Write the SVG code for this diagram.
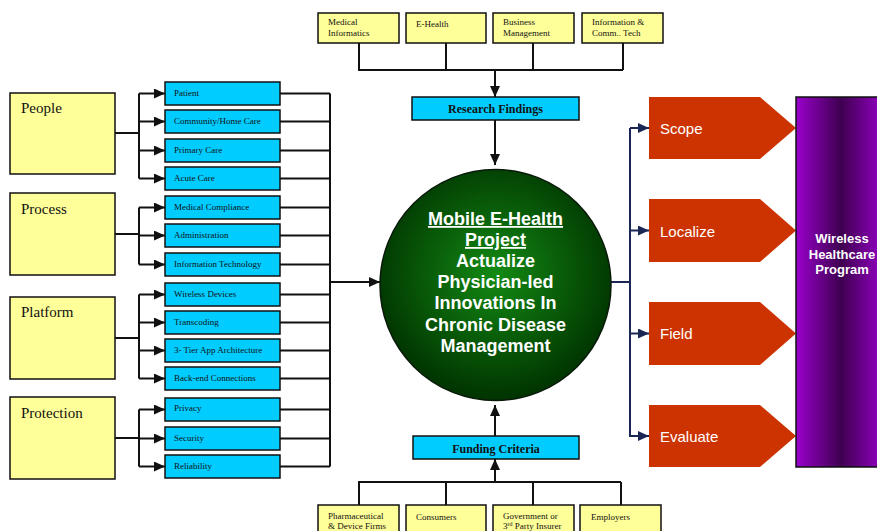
<svg xmlns="http://www.w3.org/2000/svg" width="877" height="531" viewBox="0 0 877 531">
<style>
.y{fill:#ffff99;stroke:#111;stroke-width:1.5}
.b{fill:#00ccff;stroke:#111;stroke-width:1.5}
.ts{font-family:"Liberation Serif",serif;font-size:9px;fill:#111}
.tl{font-family:"Liberation Serif",serif;font-size:15px;fill:#111}
.tb{font-family:"Liberation Serif",serif;font-size:12px;font-weight:bold;fill:#111;text-anchor:middle}
.ln{fill:none;stroke:#111;stroke-width:2}
.nv{fill:none;stroke:#1a2755;stroke-width:2}
.ar{font-family:"Liberation Sans",Arial,sans-serif;font-size:15px;fill:#fff}
.pg{fill:#cc3300}
.ct{font-family:"Liberation Sans",Arial,sans-serif;font-size:18px;font-weight:bold;fill:#fff;text-anchor:middle}
</style>
<defs>
<marker id="a" markerUnits="userSpaceOnUse" markerWidth="12" markerHeight="10" refX="11" refY="5" orient="auto"><path d="M0,0 L11,5 L0,10 z" fill="#111"/></marker>
<marker id="n" markerUnits="userSpaceOnUse" markerWidth="12" markerHeight="10" refX="11" refY="5" orient="auto"><path d="M0,0 L11,5 L0,10 z" fill="#1a2755"/></marker>
<radialGradient id="g" cx="50%" cy="45%" r="55%"><stop offset="0" stop-color="#138a13"/><stop offset="1" stop-color="#003300"/></radialGradient>
<linearGradient id="p" x1="0" x2="1" y1="0" y2="0"><stop offset="0" stop-color="#9900cc"/><stop offset="0.5" stop-color="#3f0050"/><stop offset="1" stop-color="#9900cc"/></linearGradient>
</defs>

<g id="connectors">
<path class="ln" d="M359,43 V70 H623 M446,43 V70 M533,43 V70 M623,43 V70"/>
<path class="ln" d="M495,70 V97" stroke-width="3" marker-end="url(#a)"/>
<path class="ln" d="M495,120 V165" marker-end="url(#a)"/>
<path class="ln" d="M359,505 V482 H621 M446,505 V482 M533,505 V482 M621,505 V482"/>
<path class="ln" d="M495,482 V459" stroke-width="3" marker-end="url(#a)"/>
<path class="ln" d="M495,436 V405" marker-end="url(#a)"/>
<path class="ln" d="M115,133 H139 M139,93.5 V178.5 M115,234 H139 M139,207.5 V264.5 M115,338 H139 M139,294.5 V378.5 M115,438 H139 M139,409.5 V466.5"/>
<g class="ln" marker-end="url(#a)">
<path d="M139,93.5 H165"/><path d="M139,121.5 H165"/><path d="M139,150.5 H165"/><path d="M139,178.5 H165"/>
<path d="M139,207.5 H165"/><path d="M139,235.5 H165"/><path d="M139,264.5 H165"/>
<path d="M139,294.5 H165"/><path d="M139,322.5 H165"/><path d="M139,350.5 H165"/><path d="M139,378.5 H165"/>
<path d="M139,409.5 H165"/><path d="M139,438.5 H165"/><path d="M139,466.5 H165"/>
</g>
<path class="ln" d="M280,93.5 H330 M280,121.5 H330 M280,150.5 H330 M280,178.5 H330 M280,207.5 H330 M280,235.5 H330 M280,264.5 H330 M280,294.5 H330 M280,322.5 H330 M280,350.5 H330 M280,378.5 H330 M280,409.5 H330 M280,438.5 H330 M280,466.5 H330 M330,93.5 V466.5"/>
<path class="ln" d="M330,282 H380" stroke-width="2.5" marker-end="url(#a)"/>
<path class="nv" d="M611,282 H630 M630,128 V437"/>
<g class="nv" marker-end="url(#n)">
<path d="M630,128 H649"/><path d="M630,230.5 H649"/><path d="M630,333.5 H649"/><path d="M630,436 H649"/>
</g>
</g>

<g id="top-medical-informatics"><rect class="y" x="318" y="13" width="81" height="30"/><text class="ts" x="328" y="25">Medical</text><text class="ts" x="328" y="36">Informatics</text></g>
<g id="top-ehealth"><rect class="y" x="406" y="13" width="80" height="30"/><text class="ts" x="416" y="27">E-Health</text></g>
<g id="top-business"><rect class="y" x="493" y="13" width="81" height="30"/><text class="ts" x="503" y="25">Business</text><text class="ts" x="503" y="36">Management</text></g>
<g id="top-infotech"><rect class="y" x="582" y="13" width="81" height="30"/><text class="ts" x="592" y="25">Information &amp;</text><text class="ts" x="592" y="36">Comm.. Tech</text></g>

<g id="research-findings"><rect class="b" x="412" y="97" width="167" height="23"/><text class="tb" x="495.5" y="113">Research Findings</text></g>
<g id="funding-criteria"><rect class="b" x="413" y="436" width="166" height="23"/><text class="tb" x="496" y="453">Funding Criteria</text></g>

<g id="bot-pharma"><rect class="y" x="318" y="505" width="81" height="32"/><text class="ts" x="328" y="519">Pharmaceutical</text><text class="ts" x="328" y="529">&amp; Device Firms</text></g>
<g id="bot-consumers"><rect class="y" x="406" y="505" width="80" height="32"/><text class="ts" x="416" y="520">Consumers</text></g>
<g id="bot-government"><rect class="y" x="493" y="505" width="81" height="32"/><text class="ts" x="503" y="519">Government or</text><text class="ts" x="503" y="529">3<tspan font-size="6" dy="-3">rd</tspan><tspan dy="3"> Party Insurer</tspan></text></g>
<g id="bot-employers"><rect class="y" x="580" y="505" width="81" height="32"/><text class="ts" x="591" y="520">Employers</text></g>

<g id="people"><rect class="y" x="10" y="93" width="105" height="81"/><text class="tl" x="21" y="113">People</text></g>
<g id="process"><rect class="y" x="10" y="193" width="105" height="82"/><text class="tl" x="21" y="214">Process</text></g>
<g id="platform"><rect class="y" x="10" y="297" width="105" height="82"/><text class="tl" x="21" y="317">Platform</text></g>
<g id="protection"><rect class="y" x="10" y="397" width="105" height="82"/><text class="tl" x="21" y="418">Protection</text></g>

<g id="patient"><rect class="b" x="165" y="82" width="115" height="23"/><text class="ts" x="174" y="96">Patient</text></g>
<g id="community"><rect class="b" x="165" y="110" width="115" height="23"/><text class="ts" x="174" y="124">Community/Home Care</text></g>
<g id="primary"><rect class="b" x="165" y="139" width="115" height="23"/><text class="ts" x="174" y="153">Primary Care</text></g>
<g id="acute"><rect class="b" x="165" y="167" width="115" height="23"/><text class="ts" x="174" y="181">Acute Care</text></g>
<g id="compliance"><rect class="b" x="165" y="196" width="115" height="23"/><text class="ts" x="174" y="210">Medical Compliance</text></g>
<g id="administration"><rect class="b" x="165" y="224" width="115" height="23"/><text class="ts" x="174" y="238">Administration</text></g>
<g id="it"><rect class="b" x="165" y="253" width="115" height="23"/><text class="ts" x="174" y="267">Information Technology</text></g>
<g id="wireless"><rect class="b" x="165" y="283" width="115" height="23"/><text class="ts" x="174" y="297">Wireless Devices</text></g>
<g id="transcoding"><rect class="b" x="165" y="311" width="115" height="23"/><text class="ts" x="174" y="325">Transcoding</text></g>
<g id="tier"><rect class="b" x="165" y="339" width="115" height="23"/><text class="ts" x="174" y="353">3- Tier App Architecture</text></g>
<g id="backend"><rect class="b" x="165" y="367" width="115" height="23"/><text class="ts" x="174" y="381">Back-end Connections</text></g>
<g id="privacy"><rect class="b" x="165" y="398" width="115" height="23"/><text class="ts" x="174" y="411">Privacy</text></g>
<g id="security"><rect class="b" x="165" y="427" width="115" height="23"/><text class="ts" x="174" y="441">Security</text></g>
<g id="reliability"><rect class="b" x="165" y="455" width="115" height="23"/><text class="ts" x="174" y="469">Reliability</text></g>

<g id="center">
<circle cx="495.5" cy="285" r="115.5" fill="url(#g)" stroke="#0a1a0a" stroke-width="1.5"/>
<text class="ct" x="495.5" y="225" text-decoration="underline">Mobile E-Health</text>
<text class="ct" x="495.5" y="246" text-decoration="underline">Project</text>
<text class="ct" x="495.5" y="267">Actualize</text>
<text class="ct" x="495.5" y="288">Physician-led</text>
<text class="ct" x="495.5" y="309">Innovations In</text>
<text class="ct" x="495.5" y="331">Chronic Disease</text>
<text class="ct" x="495.5" y="352">Management</text>
</g>

<g id="scope"><path class="pg" d="M649,97 H760 L796,128 L760,159 H649 z"/><text class="ar" x="660" y="134">Scope</text></g>
<g id="localize"><path class="pg" d="M649,199 H760 L796,230.5 L760,262 H649 z"/><text class="ar" x="660" y="237">Localize</text></g>
<g id="field"><path class="pg" d="M649,302 H760 L796,333.5 L760,365 H649 z"/><text class="ar" x="660" y="339">Field</text></g>
<g id="evaluate"><path class="pg" d="M649,405 H760 L796,436 L760,467 H649 z"/><text class="ar" x="660" y="442">Evaluate</text></g>

<g id="program">
<rect x="796" y="97" width="90" height="370" fill="url(#p)" stroke="#111" stroke-width="1.5"/>
<g font-family="'Liberation Sans',Arial,sans-serif" font-size="13" font-weight="bold" fill="#fff" text-anchor="middle">
<text x="842" y="243">Wireless</text>
<text x="842" y="259">Healthcare</text>
<text x="842" y="274">Program</text>
</g>
</g>
</svg>
